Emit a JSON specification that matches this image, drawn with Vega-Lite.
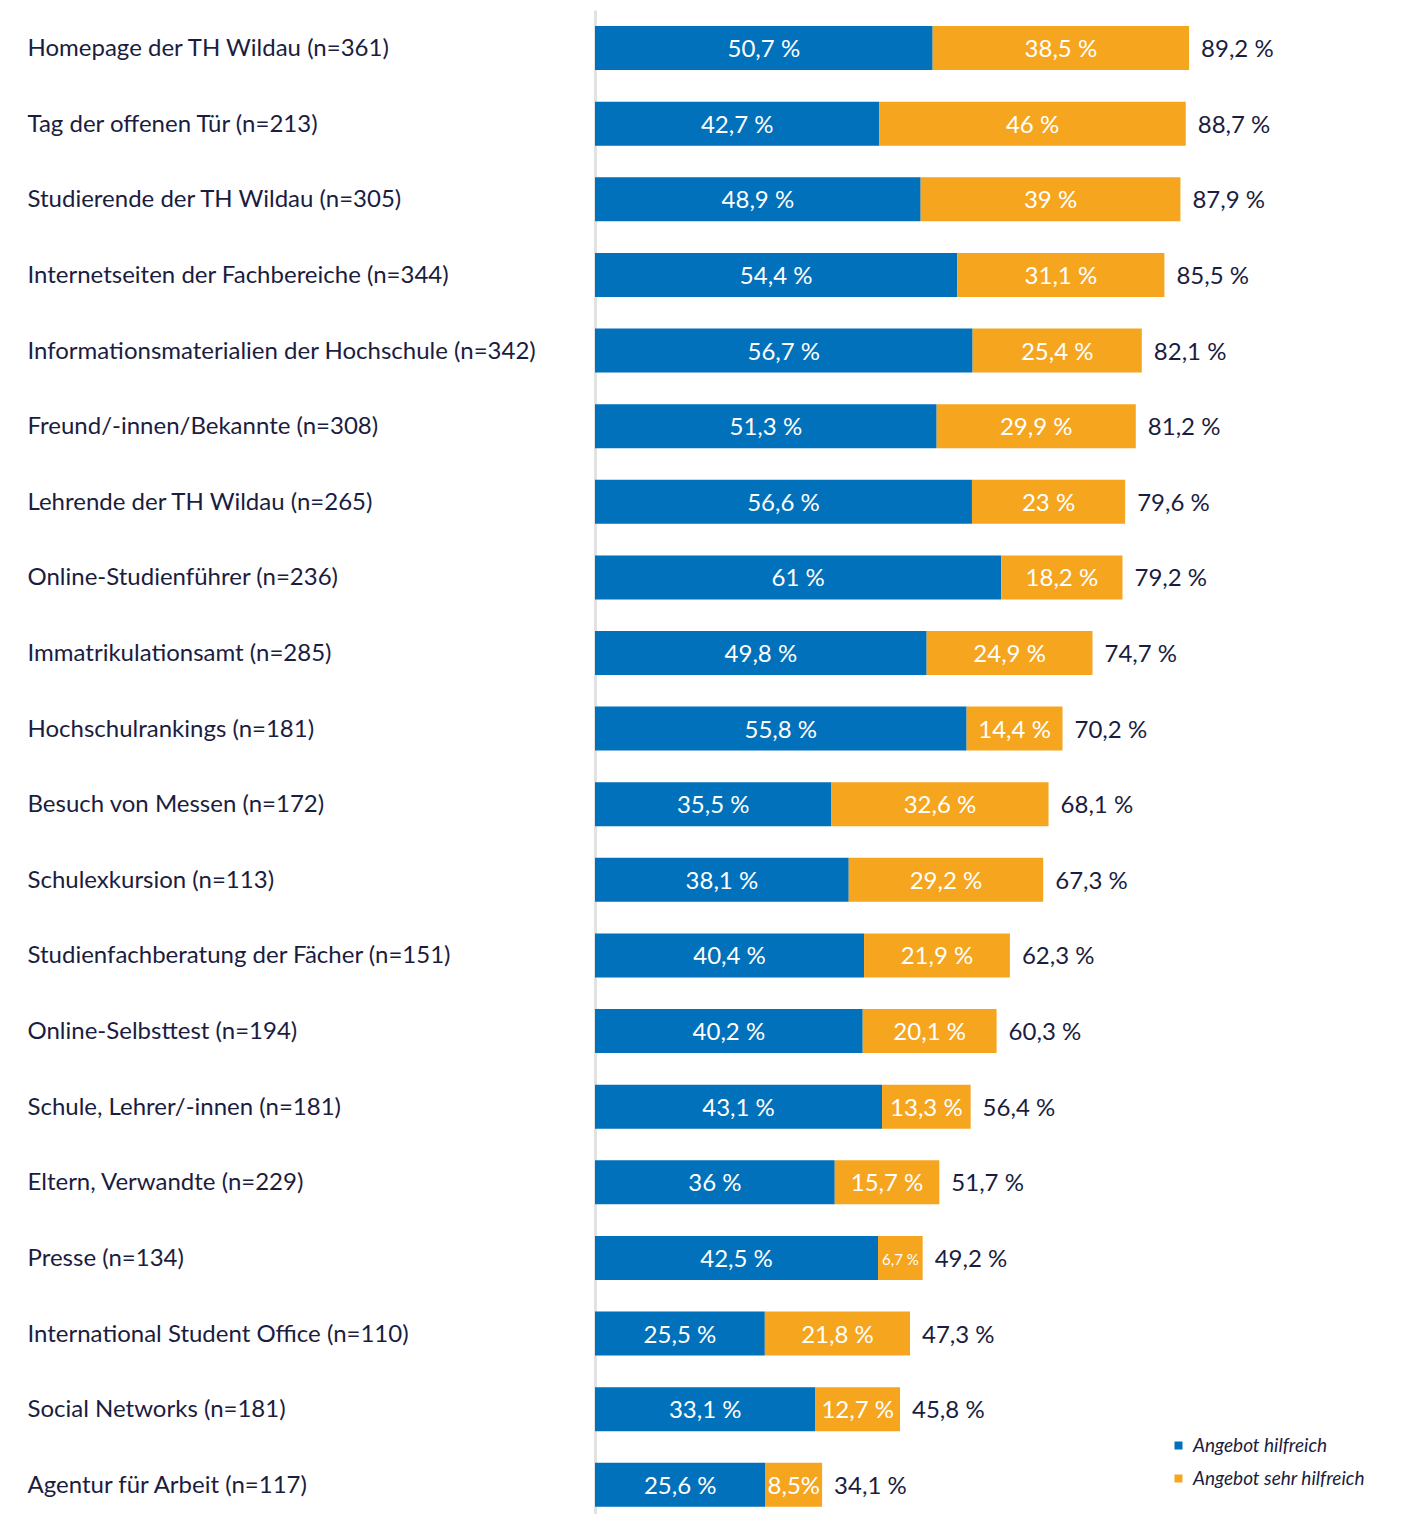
{
  "$schema": "https://vega.github.io/schema/vega-lite/v6.json",
  "width": 666,
  "height": 1504,
  "autosize": {"type": "none"},
  "padding": {"left": 595, "top": 10, "right": 140, "bottom": 0},
  "background": "white",
  "config": {"view": {"stroke": null}, "font": "Lato"},
  "datasets": {
    "segs": [
      {"item": "Homepage der TH Wildau (n=361)", "cat": "Angebot hilfreich", "ord": 1, "value": 50.7, "label": "50,7 %"},
      {"item": "Homepage der TH Wildau (n=361)", "cat": "Angebot sehr hilfreich", "ord": 2, "value": 38.5, "label": "38,5 %"},
      {"item": "Tag der offenen Tür (n=213)", "cat": "Angebot hilfreich", "ord": 1, "value": 42.7, "label": "42,7 %"},
      {"item": "Tag der offenen Tür (n=213)", "cat": "Angebot sehr hilfreich", "ord": 2, "value": 46, "label": "46 %"},
      {"item": "Studierende der TH Wildau (n=305)", "cat": "Angebot hilfreich", "ord": 1, "value": 48.9, "label": "48,9 %"},
      {"item": "Studierende der TH Wildau (n=305)", "cat": "Angebot sehr hilfreich", "ord": 2, "value": 39, "label": "39 %"},
      {"item": "Internetseiten der Fachbereiche (n=344)", "cat": "Angebot hilfreich", "ord": 1, "value": 54.4, "label": "54,4 %"},
      {"item": "Internetseiten der Fachbereiche (n=344)", "cat": "Angebot sehr hilfreich", "ord": 2, "value": 31.1, "label": "31,1 %"},
      {"item": "Informationsmaterialien der Hochschule (n=342)", "cat": "Angebot hilfreich", "ord": 1, "value": 56.7, "label": "56,7 %"},
      {"item": "Informationsmaterialien der Hochschule (n=342)", "cat": "Angebot sehr hilfreich", "ord": 2, "value": 25.4, "label": "25,4 %"},
      {"item": "Freund/-innen/Bekannte (n=308)", "cat": "Angebot hilfreich", "ord": 1, "value": 51.3, "label": "51,3 %"},
      {"item": "Freund/-innen/Bekannte (n=308)", "cat": "Angebot sehr hilfreich", "ord": 2, "value": 29.9, "label": "29,9 %"},
      {"item": "Lehrende der TH Wildau (n=265)", "cat": "Angebot hilfreich", "ord": 1, "value": 56.6, "label": "56,6 %"},
      {"item": "Lehrende der TH Wildau (n=265)", "cat": "Angebot sehr hilfreich", "ord": 2, "value": 23, "label": "23 %"},
      {"item": "Online-Studienführer (n=236)", "cat": "Angebot hilfreich", "ord": 1, "value": 61, "label": "61 %"},
      {"item": "Online-Studienführer (n=236)", "cat": "Angebot sehr hilfreich", "ord": 2, "value": 18.2, "label": "18,2 %"},
      {"item": "Immatrikulationsamt (n=285)", "cat": "Angebot hilfreich", "ord": 1, "value": 49.8, "label": "49,8 %"},
      {"item": "Immatrikulationsamt (n=285)", "cat": "Angebot sehr hilfreich", "ord": 2, "value": 24.9, "label": "24,9 %"},
      {"item": "Hochschulrankings (n=181)", "cat": "Angebot hilfreich", "ord": 1, "value": 55.8, "label": "55,8 %"},
      {"item": "Hochschulrankings (n=181)", "cat": "Angebot sehr hilfreich", "ord": 2, "value": 14.4, "label": "14,4 %"},
      {"item": "Besuch von Messen (n=172)", "cat": "Angebot hilfreich", "ord": 1, "value": 35.5, "label": "35,5 %"},
      {"item": "Besuch von Messen (n=172)", "cat": "Angebot sehr hilfreich", "ord": 2, "value": 32.6, "label": "32,6 %"},
      {"item": "Schulexkursion (n=113)", "cat": "Angebot hilfreich", "ord": 1, "value": 38.1, "label": "38,1 %"},
      {"item": "Schulexkursion (n=113)", "cat": "Angebot sehr hilfreich", "ord": 2, "value": 29.2, "label": "29,2 %"},
      {"item": "Studienfachberatung der Fächer (n=151)", "cat": "Angebot hilfreich", "ord": 1, "value": 40.4, "label": "40,4 %"},
      {"item": "Studienfachberatung der Fächer (n=151)", "cat": "Angebot sehr hilfreich", "ord": 2, "value": 21.9, "label": "21,9 %"},
      {"item": "Online-Selbsttest (n=194)", "cat": "Angebot hilfreich", "ord": 1, "value": 40.2, "label": "40,2 %"},
      {"item": "Online-Selbsttest (n=194)", "cat": "Angebot sehr hilfreich", "ord": 2, "value": 20.1, "label": "20,1 %"},
      {"item": "Schule, Lehrer/-innen (n=181)", "cat": "Angebot hilfreich", "ord": 1, "value": 43.1, "label": "43,1 %"},
      {"item": "Schule, Lehrer/-innen (n=181)", "cat": "Angebot sehr hilfreich", "ord": 2, "value": 13.3, "label": "13,3 %"},
      {"item": "Eltern, Verwandte (n=229)", "cat": "Angebot hilfreich", "ord": 1, "value": 36, "label": "36 %"},
      {"item": "Eltern, Verwandte (n=229)", "cat": "Angebot sehr hilfreich", "ord": 2, "value": 15.7, "label": "15,7 %"},
      {"item": "Presse (n=134)", "cat": "Angebot hilfreich", "ord": 1, "value": 42.5, "label": "42,5 %"},
      {"item": "Presse (n=134)", "cat": "Angebot sehr hilfreich", "ord": 2, "value": 6.7, "label": "6,7 %"},
      {"item": "International Student Office (n=110)", "cat": "Angebot hilfreich", "ord": 1, "value": 25.5, "label": "25,5 %"},
      {"item": "International Student Office (n=110)", "cat": "Angebot sehr hilfreich", "ord": 2, "value": 21.8, "label": "21,8 %"},
      {"item": "Social Networks (n=181)", "cat": "Angebot hilfreich", "ord": 1, "value": 33.1, "label": "33,1 %"},
      {"item": "Social Networks (n=181)", "cat": "Angebot sehr hilfreich", "ord": 2, "value": 12.7, "label": "12,7 %"},
      {"item": "Agentur für Arbeit (n=117)", "cat": "Angebot hilfreich", "ord": 1, "value": 25.6, "label": "25,6 %"},
      {"item": "Agentur für Arbeit (n=117)", "cat": "Angebot sehr hilfreich", "ord": 2, "value": 8.5, "label": "8,5%"}
    ],
    "totals": [
      {"item": "Homepage der TH Wildau (n=361)", "total": 89.2, "label": "89,2 %"},
      {"item": "Tag der offenen Tür (n=213)", "total": 88.7, "label": "88,7 %"},
      {"item": "Studierende der TH Wildau (n=305)", "total": 87.9, "label": "87,9 %"},
      {"item": "Internetseiten der Fachbereiche (n=344)", "total": 85.5, "label": "85,5 %"},
      {"item": "Informationsmaterialien der Hochschule (n=342)", "total": 82.1, "label": "82,1 %"},
      {"item": "Freund/-innen/Bekannte (n=308)", "total": 81.2, "label": "81,2 %"},
      {"item": "Lehrende der TH Wildau (n=265)", "total": 79.6, "label": "79,6 %"},
      {"item": "Online-Studienführer (n=236)", "total": 79.2, "label": "79,2 %"},
      {"item": "Immatrikulationsamt (n=285)", "total": 74.7, "label": "74,7 %"},
      {"item": "Hochschulrankings (n=181)", "total": 70.2, "label": "70,2 %"},
      {"item": "Besuch von Messen (n=172)", "total": 68.1, "label": "68,1 %"},
      {"item": "Schulexkursion (n=113)", "total": 67.3, "label": "67,3 %"},
      {"item": "Studienfachberatung der Fächer (n=151)", "total": 62.3, "label": "62,3 %"},
      {"item": "Online-Selbsttest (n=194)", "total": 60.3, "label": "60,3 %"},
      {"item": "Schule, Lehrer/-innen (n=181)", "total": 56.4, "label": "56,4 %"},
      {"item": "Eltern, Verwandte (n=229)", "total": 51.7, "label": "51,7 %"},
      {"item": "Presse (n=134)", "total": 49.2, "label": "49,2 %"},
      {"item": "International Student Office (n=110)", "total": 47.3, "label": "47,3 %"},
      {"item": "Social Networks (n=181)", "total": 45.8, "label": "45,8 %"},
      {"item": "Agentur für Arbeit (n=117)", "total": 34.1, "label": "34,1 %"}
    ]
  },
  "encoding": {
    "y": {
      "field": "item",
      "type": "nominal",
      "sort": ["Homepage der TH Wildau (n=361)", "Tag der offenen Tür (n=213)", "Studierende der TH Wildau (n=305)", "Internetseiten der Fachbereiche (n=344)", "Informationsmaterialien der Hochschule (n=342)", "Freund/-innen/Bekannte (n=308)", "Lehrende der TH Wildau (n=265)", "Online-Studienführer (n=236)", "Immatrikulationsamt (n=285)", "Hochschulrankings (n=181)", "Besuch von Messen (n=172)", "Schulexkursion (n=113)", "Studienfachberatung der Fächer (n=151)", "Online-Selbsttest (n=194)", "Schule, Lehrer/-innen (n=181)", "Eltern, Verwandte (n=229)", "Presse (n=134)", "International Student Office (n=110)", "Social Networks (n=181)", "Agentur für Arbeit (n=117)"],
      "scale": {"paddingInner": 0.418, "paddingOuter": 0.154, "align": 0.69},
      "axis": {
        "title": null,
        "ticks": false,
        "labelAlign": "left",
        "labelPadding": 568,
        "labelFontSize": 24,
        "labelFont": "Lato",
        "labelColor": "#1b1d40",
        "labelLimit": 600,
        "labelOffset": 1,
        "domainColor": "#e2e2e2",
        "domainWidth": 3
      }
    }
  },
  "layer": [
    {
      "data": {"name": "segs"},
      "mark": {"type": "bar"},
      "encoding": {
        "x": {"field": "value", "type": "quantitative", "stack": "zero", "scale": {"domain": [0, 100]}, "axis": null},
        "color": {
          "field": "cat",
          "type": "nominal",
          "scale": {"domain": ["Angebot hilfreich", "Angebot sehr hilfreich"], "range": ["#0071ba", "#f6a51f"]},
          "legend": {
            "title": null,
            "orient": "none",
            "legendX": 574,
            "legendY": 1426,
            "symbolType": "square",
            "symbolSize": 64,
            "symbolStrokeWidth": 0,
            "labelFontSize": 19,
            "labelFontStyle": "italic",
            "labelFont": "Lato",
            "labelColor": "#1b1d40",
            "labelLimit": 400,
            "rowPadding": 13,
            "labelOffset": 5
          }
        },
        "order": {"field": "ord", "type": "quantitative"}
      }
    },
    {
      "data": {"name": "segs"},
      "transform": [
        {"stack": "value", "groupby": ["item"], "sort": [{"field": "ord"}], "as": ["x0", "x1"]},
        {"calculate": "(datum.x0 + datum.x1) / 2", "as": "mid"}
      ],
      "mark": {"type": "text", "color": "white", "font": "Lato", "baseline": "middle", "align": "center", "dy": 2},
      "encoding": {
        "x": {"field": "mid", "type": "quantitative"},
        "text": {"field": "label"},
        "size": {"condition": {"test": "datum.value < 7", "value": 15}, "value": 24}
      }
    },
    {
      "data": {"name": "totals"},
      "mark": {"type": "text", "color": "#1b1d40", "font": "Lato", "fontSize": 24, "baseline": "middle", "align": "left", "dx": 12, "dy": 2},
      "encoding": {
        "x": {"field": "total", "type": "quantitative"},
        "text": {"field": "label"}
      }
    }
  ]
}
